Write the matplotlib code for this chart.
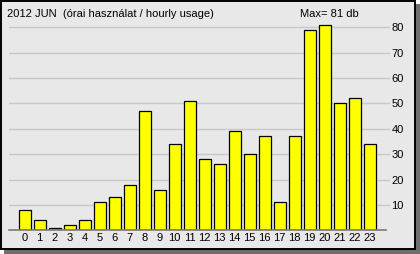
#!/usr/bin/env python3
"""Hourly usage bar chart, June 2012."""

import matplotlib
matplotlib.use("Agg")
import matplotlib.pyplot as plt
from matplotlib.patches import Rectangle

HOURS = list(range(24))
USAGE = [8, 4, 1, 2, 4, 11, 13, 18, 47, 16, 34, 51,
         28, 26, 39, 30, 37, 11, 37, 79, 81, 50, 52, 34]
Y_TICKS = [10, 20, 30, 40, 50, 60, 70, 80]
TITLE = "2012 JUN  (órai használat / hourly usage)"
MAX_LABEL = f"Max= {max(USAGE)} db"

W, H = 420, 254
BG = "#e8e8e8"


def fx(px):
    return px / W


def fy(py):
    return 1 - py / H


def main():
    plt.rcParams["font.family"] = ["Liberation Sans", "DejaVu Sans"]
    fig = plt.figure(figsize=(W / 100, H / 100), dpi=100, facecolor="white")

    # window frame with drop shadow
    fig.patches.append(Rectangle((fx(4), 0), 1 - fx(4), fy(4),
                                 transform=fig.transFigure, fc="#6e6e6e",
                                 ec="none", zorder=-3))
    fig.patches.append(Rectangle((fx(1), fy(249)), fx(414), 248 / H,
                                 transform=fig.transFigure, fc=BG,
                                 ec="black", lw=1.4, zorder=-2))

    # plot area: x 9..390 px, y=0 at 230.4 px, 2.54 px per unit
    y0, scale = 230.4, 2.54
    ytop = 85
    left, right = 9, 390
    ax = fig.add_axes([fx(left), fy(y0), fx(right - left),
                       ytop * scale / H])
    ax.set_facecolor("none")
    ax.set_xlim((left - 24.5) / 15, (right - 24.5) / 15)
    ax.set_ylim(0, ytop)

    for t in Y_TICKS:
        ax.axhline(t, color="#c8c8c8", lw=1.0, zorder=1)
    ax.plot([ax.get_xlim()[0], (386 - 24.5) / 15], [0, 0],
            color="#7a7a7a", lw=1.2, zorder=3, clip_on=False)

    ax.bar(HOURS, USAGE, width=0.8, color="#ffff00", edgecolor="black",
           linewidth=0.9, zorder=2)

    for s in ax.spines.values():
        s.set_visible(False)
    ax.yaxis.tick_right()
    ax.set_yticks(Y_TICKS)
    ax.set_yticklabels([str(t) for t in Y_TICKS], fontsize=8)
    ax.tick_params(axis="y", length=0, pad=1)
    ax.set_xticks(HOURS)
    ax.set_xticklabels([str(h) for h in HOURS], fontsize=8)
    ax.tick_params(axis="x", length=0, pad=2)

    fig.text(fx(7), fy(14), TITLE, fontsize=8, va="center", ha="left")
    fig.text(fx(300), fy(14), MAX_LABEL, fontsize=8, va="center", ha="left")

    fig.savefig("out.png", dpi=100, facecolor="white")


if __name__ == "__main__":
    main()
